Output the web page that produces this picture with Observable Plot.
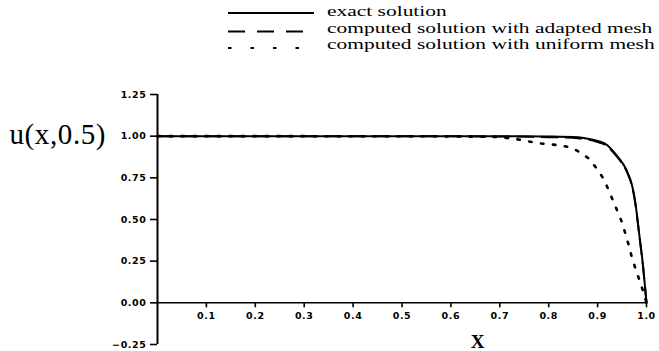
<!DOCTYPE html>
<html>
<head>
<meta charset="utf-8">
<script src="https://cdn.jsdelivr.net/npm/d3@7"></script>
<script src="https://cdn.jsdelivr.net/npm/@observablehq/plot@0.6"></script>
<style>
  html, body { margin: 0; padding: 0; background: #fff; }
  #chart { width: 659px; }
  #legend { position: relative; height: 60px; color: #000; }
  #legend .swatches { position: absolute; left: 228px; top: 0; }
  #legend .labels {
    position: absolute; left: 327px; top: 3px; white-space: nowrap;
    font-family: "Liberation Serif", "Times New Roman", serif; font-size: 15px; line-height: 16.7px;
    transform: scaleX(1.43); transform-origin: 0 0;
  }
</style>
</head>
<body>
<div id="chart">
  <div id="legend"></div>
  <div id="plot"></div>
</div>
<script>
// Profile u(x, 0.5) along the line y = 0.5
const exactX = [0, 0.30, 0.60, 0.72, 0.80, 0.86, 0.88, 0.90, 0.92, 0.933, 0.945, 0.955, 0.963, 0.969, 0.975, 0.980, 0.984, 0.993, 1.0];
const exactU = [1.0, 1.0, 1.0, 1.0, 0.998, 0.993, 0.985, 0.972, 0.946, 0.905, 0.862, 0.82, 0.77, 0.72, 0.64, 0.54, 0.44, 0.22, 0.0];

const adaptedX = [0, 0.30, 0.60, 0.72, 0.80, 0.86, 0.88, 0.90, 0.92, 0.933, 0.945, 0.955, 0.963, 0.969, 0.975, 0.980, 0.984, 0.993, 1.0];
const adaptedU = [1.0, 1.0, 0.999, 0.998, 0.994, 0.988, 0.98, 0.965, 0.94, 0.90, 0.857, 0.815, 0.765, 0.715, 0.635, 0.535, 0.435, 0.215, 0.0];

const uniformX = [0, 0.30, 0.60, 0.70, 0.725, 0.748, 0.773, 0.797, 0.821, 0.845, 0.865, 0.882, 0.899, 0.913, 0.922, 0.931, 0.940, 0.950, 0.957, 0.964, 0.970, 0.977, 0.986, 0.994, 1.0];
const uniformU = [1.0, 1.0, 0.999, 0.995, 0.985, 0.976, 0.96, 0.952, 0.946, 0.932, 0.902, 0.866, 0.803, 0.741, 0.68, 0.617, 0.553, 0.483, 0.413, 0.343, 0.273, 0.209, 0.132, 0.062, 0.0];

const seriesLabels = ["exact solution", "computed solution with adapted mesh", "computed solution with uniform mesh"];
const seriesDash = [null, "17,12", "3.5,19"];

const xTicks = [0.1, 0.2, 0.3, 0.4, 0.5, 0.6, 0.7, 0.8, 0.9, 1.0];
const yTicks = [-0.25, 0, 0.25, 0.5, 0.75, 1.0, 1.25];

const toRows = (xs, us) => xs.map((x, i) => ({x, u: us[i]}));
const exact = toRows(exactX, exactU);
const adapted = toRows(adaptedX, adaptedU);
const uniform = toRows(uniformX, uniformU);

// Legend: a column of line samples beside a stacked block of labels
const legend = document.getElementById("legend");
const svgNS = "http://www.w3.org/2000/svg";
const sw = document.createElementNS(svgNS, "svg");
sw.setAttribute("class", "swatches");
sw.setAttribute("width", 88);
sw.setAttribute("height", 58);
const swatchY = [13, 31.5, 48];
seriesLabels.forEach((label, i) => {
  const ln = document.createElementNS(svgNS, "line");
  ln.setAttribute("x1", 0); ln.setAttribute("x2", 86);
  ln.setAttribute("y1", swatchY[i]); ln.setAttribute("y2", swatchY[i]);
  ln.setAttribute("stroke", "#000");
  ln.setAttribute("stroke-width", i === 2 ? 2.2 : 1.8);
  if (seriesDash[i]) ln.setAttribute("stroke-dasharray", seriesDash[i]);
  sw.appendChild(ln);
});
legend.appendChild(sw);
const labels = document.createElement("div");
labels.className = "labels";
seriesLabels.forEach((label, i) => {
  if (i) labels.appendChild(document.createElement("br"));
  labels.appendChild(document.createTextNode(label));
});
legend.appendChild(labels);

const H = 291, MT = 34, MB = 7;
const frameH = H - MT - MB;
const yDomain = [-0.25, 1.25];
// distance between the y = 0 line and the bottom of the frame
const zeroOffset = frameH * (0 - yDomain[0]) / (yDomain[1] - yDomain[0]);

const tickFont = {fontFamily: "DejaVu Sans, sans-serif", fontWeight: "bold", fontSize: 9.5};

const plot = Plot.plot({
  width: 659,
  height: H,
  marginTop: MT,
  marginBottom: MB,
  marginLeft: 157,
  marginRight: 13,
  style: {fontFamily: "DejaVu Sans, sans-serif", background: "#fff", color: "#000", overflow: "visible", letterSpacing: "0.6px"},
  x: {domain: [0, 1]},
  y: {domain: yDomain},
  marks: [
    Plot.axisY(yTicks, {
      tickSize: 7, tickPadding: 4, strokeWidth: 1.6,
      tickFormat: d3.format(".2f"), label: null, ...tickFont
    }),
    Plot.axisX(xTicks, {
      anchor: "bottom", dy: -zeroOffset, tickSize: 5, tickPadding: 4, strokeWidth: 1.6,
      tickFormat: d3.format(".1f"), label: null, ...tickFont
    }),
    Plot.ruleX([0], {strokeWidth: 2}),
    Plot.ruleY([0], {strokeWidth: 1.5}),
    Plot.line(uniform, {x: "x", y: "u", strokeWidth: 2.6, strokeDasharray: "2.5,9.5", strokeLinecap: "round"}),
    Plot.line(exact, {x: "x", y: "u", strokeWidth: 2, curve: "monotone-x"}),
    Plot.line(adapted, {x: "x", y: "u", strokeWidth: 2, strokeDasharray: "16,8", curve: "monotone-x"}),
    Plot.text(["u(x,0.5)"], {
      frameAnchor: "top-left", textAnchor: "start", lineAnchor: "middle",
      dx: -148, dy: frameH * (yDomain[1] - 1) / (yDomain[1] - yDomain[0]) - 1,
      fontFamily: "Liberation Serif, serif", fontSize: 29
    }),
    Plot.text(["X"], {
      frameAnchor: "bottom", lineAnchor: "bottom", dx: 76, dy: 3,
      fontFamily: "Liberation Serif, serif", fontWeight: "bold", fontSize: 19
    })
  ]
});
document.getElementById("plot").appendChild(plot);
</script>
</body>
</html>
